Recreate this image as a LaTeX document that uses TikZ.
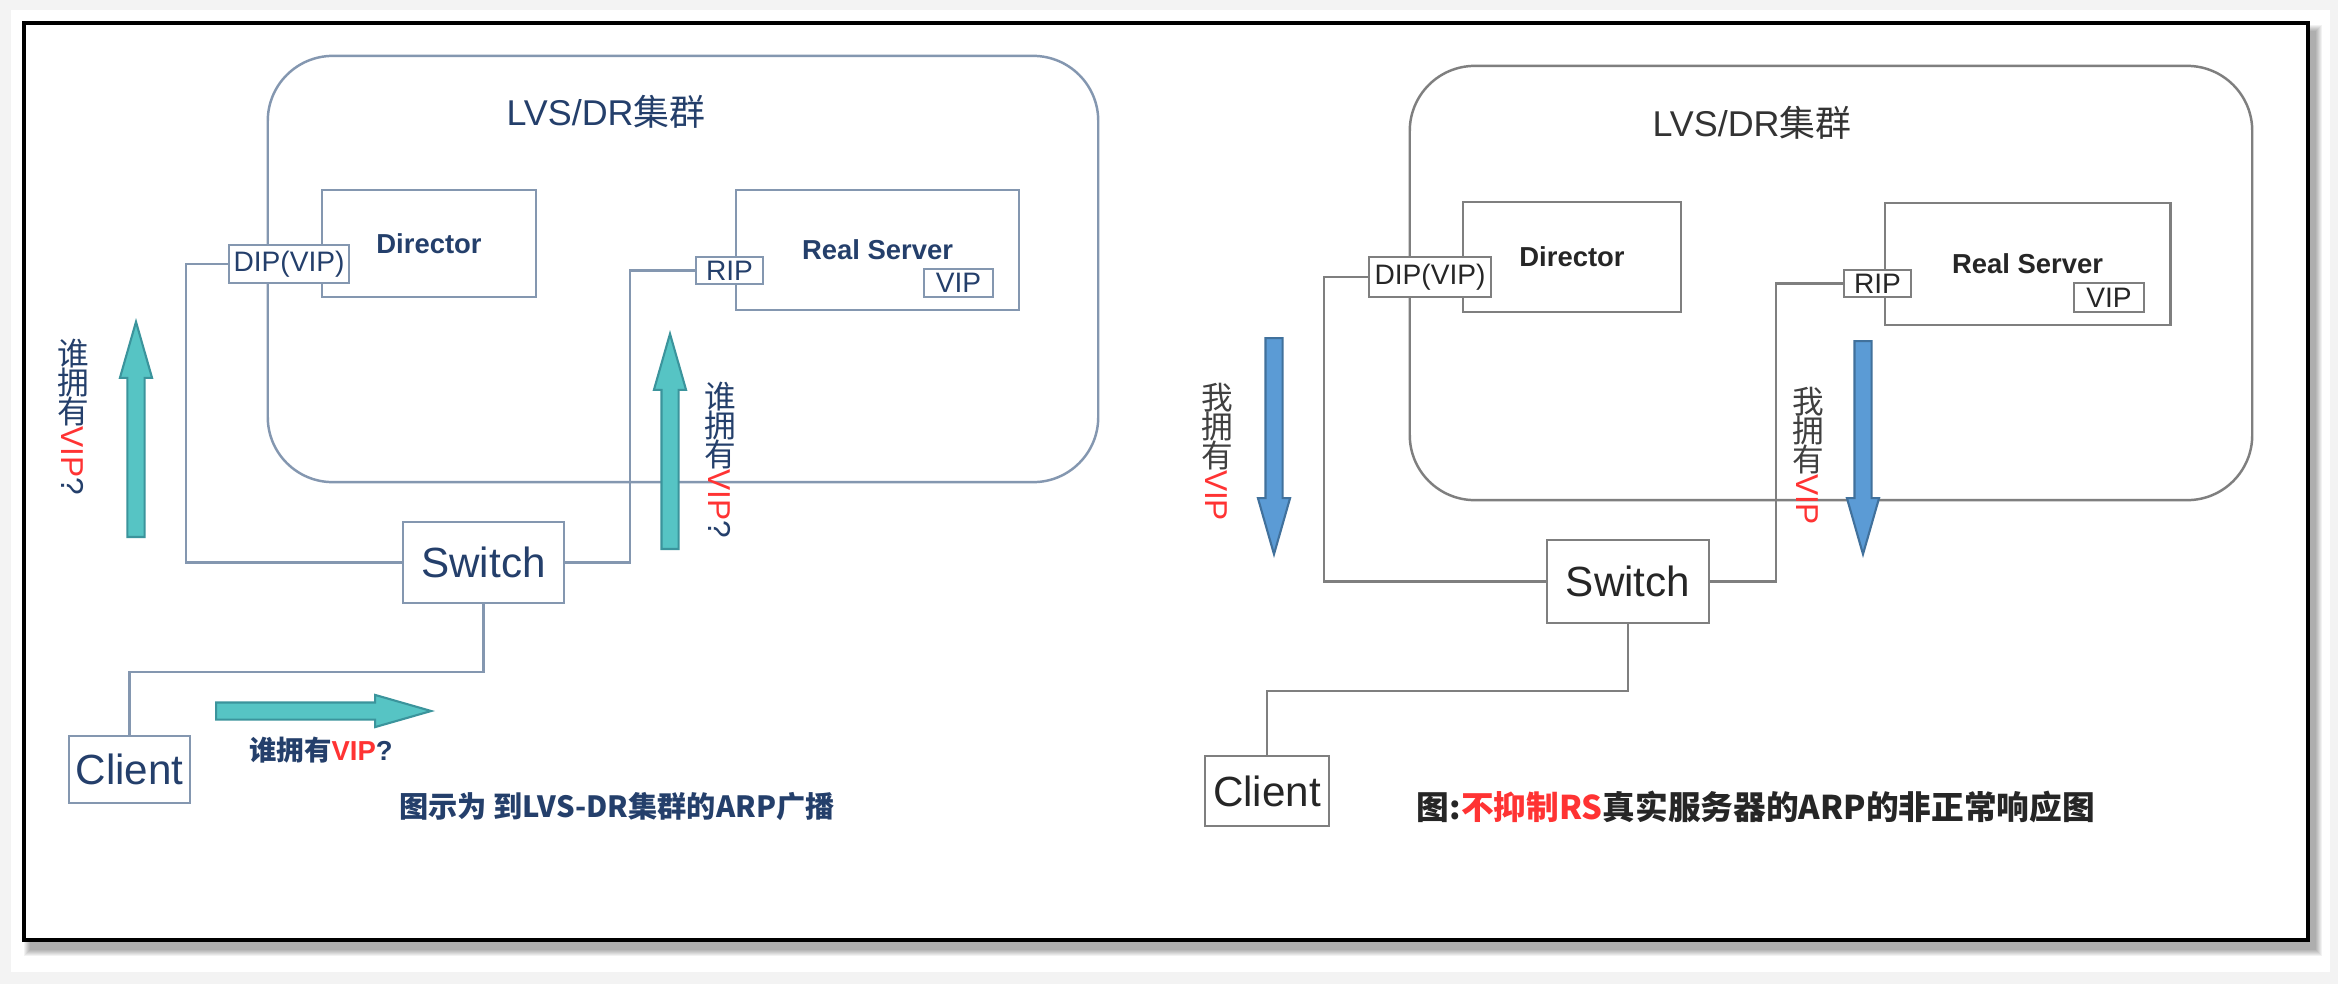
\documentclass[tikz,border=0pt]{standalone}
\usepackage{graphicx}
\usepackage{fontspec}
\setmainfont{Liberation Sans}
\newfontfamily\cjk{Noto Sans CJK SC}
\usetikzlibrary{positioning,calc,shapes.arrows}

\definecolor{navy}{HTML}{243F6B}
\definecolor{slate}{HTML}{8497B0}
\definecolor{greyline}{HTML}{7F7F7F}
\definecolor{vipred}{HTML}{FF3333}
\definecolor{tealfill}{HTML}{56C4C4}
\definecolor{tealedge}{HTML}{3B949C}
\definecolor{bluefill}{HTML}{5B9BD5}
\definecolor{blueedge}{HTML}{41719C}
\definecolor{pagegrey}{HTML}{F3F3F3}

\newcommand{\vchar}[1]{\rotatebox[origin=c]{90}{\cjk #1}}
\newcommand{\redtxt}[1]{\textcolor{vipred}{#1}}

\tikzset{
	box/.style={draw, fill=white, line width=0.8pt, inner sep=0pt},
	port/.style={box, font=\fontsize{8}{9}\selectfont},
	host/.style={box, font=\bfseries\fontsize{7.8}{9}\selectfont},
	dev/.style={box, font=\fontsize{12}{14}\selectfont},
	cluster/.style={draw, line width=0.7pt, rounded corners=0.65cm, inner sep=0pt},
	wire/.style={line width=0.6pt},
	fat/.style={single arrow, anchor=tail, inner xsep=0pt, inner ysep=0.075cm, text height=0pt, text depth=0pt,
		single arrow head extend=0.075cm, single arrow tip angle=32, line width=0.6pt},
	upteal/.style={fat, fill=tealfill, draw=tealedge, rotate=90},
	rightteal/.style={fat, fill=tealfill, draw=tealedge},
	downblue/.style={fat, fill=bluefill, draw=blueedge, rotate=-90},
	vtext/.style={rotate=-90, inner sep=0pt, font=\fontsize{9}{10}\selectfont},
}

\begin{document}
\begin{tikzpicture}[x=0.01cm, y=-0.01cm]
	\useasboundingbox (0,0) rectangle (2338,984);
	% page and framed card
	\fill[pagegrey] (0,0) rectangle (2338,984);
	\fill[white] (11,10) rectangle (2330,972);
	\foreach \k in {0,...,6}
		\fill[black, opacity=0.05] (30-\k,31-\k) rectangle (2316+\k,950+\k);
	\draw[line width=1pt, fill=white] (24,23) rectangle (2308,940);

	% left: ARP broadcast
	\begin{scope}[box/.append style={draw=slate, text=navy}, wire/.append style={draw=slate}]
		\node[cluster, draw=slate, minimum width=8.30cm, minimum height=4.26cm] (clus) at (683,269) {};
		\node[font=\fontsize{10.2}{12}\selectfont, text=navy] (clusl) at (606,112) {LVS/DR{\cjk 集群}};
		\node[host, minimum width=2.14cm, minimum height=1.07cm] (dir) at (429,243.5) {Director};
		\node[port, minimum width=1.20cm, minimum height=0.38cm] (dip) at (289,264) {DIP(VIP)};
		\node[host, minimum width=2.83cm, minimum height=1.20cm] (rs) at (877.5,250) {Real Server};
		\node[port, minimum width=0.67cm, minimum height=0.27cm] (rip) at (729.5,270.5) {RIP};
		\node[port, minimum width=0.69cm, minimum height=0.28cm] (vip) at (958.5,283) {VIP};
		\node[dev, minimum width=1.61cm, minimum height=0.81cm] (sw) at (483.5,562.5) {Switch};
		\node[dev, minimum width=1.21cm, minimum height=0.67cm] (cl) at (129.5,769.5) {Client};

		\draw[wire] (dip.west) -- ++(-42,0) |- (sw.west);
		\draw[wire] (rip.west) -- ++(-65,0) |- (sw.east);
		\draw[wire] (sw.south) -- ++(0,68) -| (cl.north);

		\node[upteal, minimum height=2.15cm] (askup) at (136,538) {};
		\node[upteal, minimum height=2.15cm] (askup2) at (670,550) {};
		\node[rightteal, minimum height=2.15cm] (askright) at (215,711) {};
		\node[vtext, text=navy] (askl) at (73,417) {\vchar{谁}\vchar{拥}\vchar{有}\redtxt{VIP}?};
		\node[vtext, text=navy] (askm) at (720,460) {\vchar{谁}\vchar{拥}\vchar{有}\redtxt{VIP}?};
		\node[font=\bfseries\fontsize{7.8}{9}\selectfont, text=navy] (askh) at (321,750) {{\cjk 谁拥有}\redtxt{VIP}?};
		\node[font=\bfseries\fontsize{8.3}{10}\selectfont, text=navy] (capl) at (617,807) {\cjk 图示为 到LVS-DR集群的ARP广播};
	\end{scope}

	% right: RS answers the ARP request
	\begin{scope}[box/.append style={draw=greyline, text=black!85}, wire/.append style={draw=greyline}]
		\node[cluster, draw=greyline, minimum width=8.42cm, minimum height=4.34cm] (clus2) at (1831,283) {};
		\node[font=\fontsize{10.2}{12}\selectfont, text=black!80] (clusl2) at (1752,123) {LVS/DR{\cjk 集群}};
		\node[host, minimum width=2.18cm, minimum height=1.10cm] (dir2) at (1572,257) {Director};
		\node[port, minimum width=1.22cm, minimum height=0.40cm] (dip2) at (1430,277) {DIP(VIP)};
		\node[host, minimum width=2.85cm, minimum height=1.22cm] (rs2) at (2027.5,264) {Real Server};
		\node[port, minimum width=0.67cm, minimum height=0.27cm] (rip2) at (1877.5,283.5) {RIP};
		\node[port, minimum width=0.70cm, minimum height=0.29cm] (vip2) at (2109,297.5) {VIP};
		\node[dev, minimum width=1.62cm, minimum height=0.83cm] (sw2) at (1628,581.5) {Switch};
		\node[dev, minimum width=1.24cm, minimum height=0.70cm] (cl2) at (1267,791) {Client};

		\draw[wire] (dip2.west) -- ++(-44,0) |- (sw2.west);
		\draw[wire] (rip2.west) -- ++(-67,0) |- (sw2.east);
		\draw[wire] (sw2.south) -- ++(0,67) -| (cl2.north);

		\node[downblue, minimum height=2.16cm] (mine) at (1274,337) {};
		\node[downblue, minimum height=2.13cm] (mine2) at (1863,340) {};
		\node[vtext, text=black!75] (minel) at (1217,452) {\vchar{我}\vchar{拥}\vchar{有}\redtxt{VIP}};
		\node[vtext, text=black!75] (minel2) at (1808,456) {\vchar{我}\vchar{拥}\vchar{有}\redtxt{VIP}};
		\node[font=\bfseries\fontsize{9.3}{11}\selectfont, text=black!85] (capr) at (1756,807) {\cjk 图:\redtxt{不抑制RS}真实服务器的ARP的非正常响应图};
	\end{scope}
\end{tikzpicture}
\end{document}
